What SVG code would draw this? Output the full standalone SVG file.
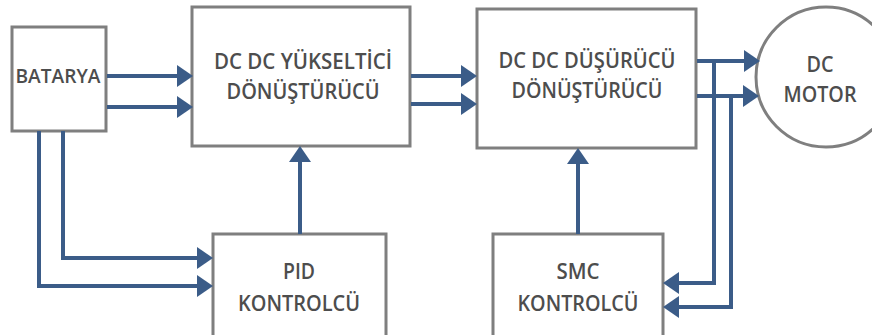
<svg xmlns="http://www.w3.org/2000/svg" width="872" height="335" viewBox="0 0 872 335">
<defs>
<style>
.box{fill:#fff;stroke:#7f7f7f;stroke-width:3}
.lbl{font-family:"Open Sans","Liberation Sans",sans-serif;font-weight:600;fill:#4d4d4d;text-anchor:middle}
.con{fill:none;stroke:#3b5c88;stroke-width:4;stroke-linejoin:miter}
</style>
<marker id="ah" markerUnits="userSpaceOnUse" markerWidth="16" markerHeight="22" refX="8" refY="11" orient="auto" viewBox="0 0 16 22">
<path d="M0,0 L16,11 L0,22 Z" fill="#3b5c88"/>
</marker>
</defs>
<rect width="872" height="335" fill="#fff"/>
<g id="batarya">
<rect class="box" x="12" y="27" width="94" height="104"/>
<text class="lbl" x="58" y="83" font-size="19" textLength="85" lengthAdjust="spacingAndGlyphs">BATARYA</text>
</g>
<g id="yukseltici">
<rect class="box" x="192" y="7" width="218" height="139"/>
<text class="lbl" font-size="22"><tspan x="303" y="69" textLength="178" lengthAdjust="spacingAndGlyphs">DC DC YÜKSELTİCİ</tspan><tspan x="303" y="99" textLength="153" lengthAdjust="spacingAndGlyphs">DÖNÜŞTÜRÜCÜ</tspan></text>
</g>
<g id="dusurucu">
<rect class="box" x="477" y="9" width="219" height="139"/>
<text class="lbl" font-size="22"><tspan x="587" y="68" textLength="177" lengthAdjust="spacingAndGlyphs">DC DC DÜŞÜRÜCÜ</tspan><tspan x="587" y="98" textLength="151" lengthAdjust="spacingAndGlyphs">DÖNÜŞTÜRÜCÜ</tspan></text>
</g>
<g id="motor">
<circle class="box" cx="826" cy="77" r="70"/>
<text class="lbl" font-size="22"><tspan x="820" y="72" textLength="27" lengthAdjust="spacingAndGlyphs">DC</tspan><tspan x="820" y="102" textLength="73" lengthAdjust="spacingAndGlyphs">MOTOR</tspan></text>
</g>
<g id="pid">
<rect class="box" x="213" y="234" width="173" height="112"/>
<text class="lbl" font-size="22"><tspan x="299" y="279" textLength="32" lengthAdjust="spacingAndGlyphs">PID</tspan><tspan x="299" y="311" textLength="122" lengthAdjust="spacingAndGlyphs">KONTROLCÜ</tspan></text>
</g>
<g id="smc">
<rect class="box" x="493" y="234" width="170" height="112"/>
<text class="lbl" font-size="22"><tspan x="578" y="279" textLength="43" lengthAdjust="spacingAndGlyphs">SMC</tspan><tspan x="578" y="311" textLength="121" lengthAdjust="spacingAndGlyphs">KONTROLCÜ</tspan></text>
</g>
<g id="connectors">
<path class="con" d="M107,76 H185" marker-end="url(#ah)"/>
<path class="con" d="M107,107 H185" marker-end="url(#ah)"/>
<path class="con" d="M63,131 V258 H205" marker-end="url(#ah)"/>
<path class="con" d="M39,131 V286 H205" marker-end="url(#ah)"/>
<path class="con" d="M300,234 V154" marker-end="url(#ah)"/>
<path class="con" d="M411,76 H469" marker-end="url(#ah)"/>
<path class="con" d="M411,104 H469" marker-end="url(#ah)"/>
<path class="con" d="M578,234 V156" marker-end="url(#ah)"/>
<path class="con" d="M697,61 H752" marker-end="url(#ah)"/>
<path class="con" d="M697,96 H751" marker-end="url(#ah)"/>
<path class="con" d="M714,61 V283 H671" marker-end="url(#ah)"/>
<path class="con" d="M731,96 V307 H671" marker-end="url(#ah)"/>
</g>
</svg>
